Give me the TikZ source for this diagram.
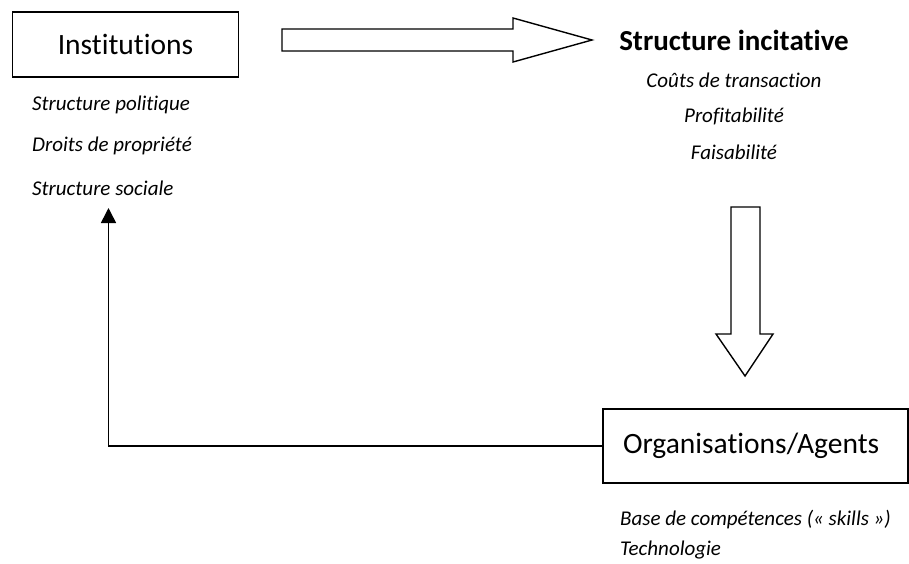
\documentclass[tikz,border=0pt]{standalone}
\usepackage{fontspec}
\setmainfont{Carlito}[Ligatures=NoCommon]
\usetikzlibrary{arrows.meta}
\begin{document}
\begin{tikzpicture}[x=1pt,y=-1pt,
  boxnode/.style={draw,line width=1.4pt,inner sep=0pt,font=\fontsize{29.5}{31}\selectfont},
  itemtext/.style={inner sep=0pt,font=\fontsize{21}{23}\selectfont\itshape},
  titletext/.style={inner sep=0pt,font=\fontsize{29}{31}\selectfont\bfseries},
  blockarrow/.style={draw,line width=1.4pt,line join=miter,fill=white},
  feedback/.style={line width=1.6pt,-{Triangle[length=15pt,width=15pt]}}]
\useasboundingbox (0,0) rectangle (909,563);
% Institutions
\node[boxnode,minimum width=226pt,minimum height=65pt] (inst) at (125.5,44.5) {Institutions};
\node[itemtext,anchor=west] (pol) at (32,105) {Structure politique};
\node[itemtext,anchor=west] (droits) at (32,146) {Droits de propriété};
\node[itemtext,anchor=west] (soc) at (32,188) {Structure sociale};
% Structure incitative
\node[titletext] (inc) at (734,40) {Structure incitative};
\node[itemtext] (couts) at (734,80) {Coûts de transaction};
\node[itemtext] (profit) at (734,116) {Profitabilité};
\node[itemtext] (faisa) at (734,152) {Faisabilité};
% Organisations
\node[boxnode,minimum width=305pt,minimum height=74pt,text width=265pt,align=left] (org) at (755.5,446) {Organisations/Agents};
\node[itemtext,anchor=west] (base) at (620,520) {Base de compétences (« skills »)};
\node[itemtext,anchor=west] (techno) at (620,550) {Technologie};
% block arrows
\draw[blockarrow] (282,29) -- (513,29) -- (513,18) -- (592,40) -- (513,62) -- (513,51) -- (282,51) -- cycle;
\draw[blockarrow] (731,207) -- (760,207) -- (760,334) -- (773,334) -- (745,376) -- (716,334) -- (731,334) -- cycle;
% feedback connector
\coordinate (fbtip) at (108.5,208);
\draw[feedback] (org.west) -| (fbtip);
\end{tikzpicture}
\end{document}
